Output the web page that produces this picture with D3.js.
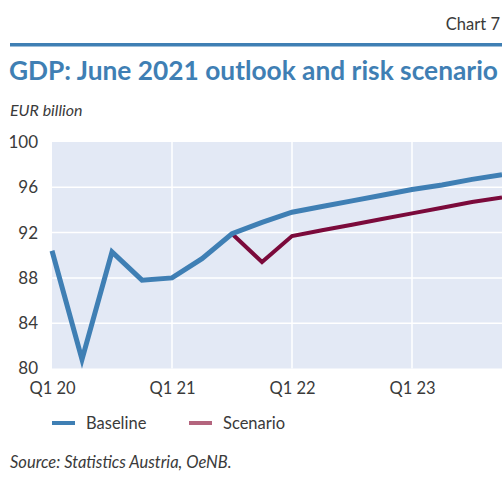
<!DOCTYPE html>
<html><head><meta charset="utf-8">
<script src="https://cdn.jsdelivr.net/npm/d3@7"></script>
<style>body{margin:0;background:#fff;} svg{display:block;}</style>
</head><body>
<svg id="c" width="502" height="481"></svg>
<script>
const quarters = ["Q1 20","Q2 20","Q3 20","Q4 20","Q1 21","Q2 21","Q3 21","Q4 21","Q1 22","Q2 22","Q3 22","Q4 22","Q1 23","Q2 23","Q3 23","Q4 23"];
const baseline = [90.4,80.8,90.3,87.8,88.0,89.7,91.9,92.9,93.8,94.3,94.8,95.3,95.8,96.2,96.7,97.1];
const scenario = [null,null,null,null,null,null,91.9,89.4,91.7,92.2,92.7,93.2,93.7,94.2,94.7,95.1];
const yTicks = [80,84,88,92,96,100];
const xTickLabels = ["Q1 20","Q1 21","Q1 22","Q1 23"];

const font = "Lato, 'Open Sans', sans-serif";
const svg = d3.select("#c");
const blue = "#3f7fb4", red = "#7b0a3b", legRed = "#b4657e", bg = "#e3e9f5", txt = "#3a3a3a";

// header
svg.append("text").attr("x",500).attr("y",30).attr("text-anchor","end")
  .attr("font-family",font).attr("font-size",16.5).attr("fill",txt).text("Chart 7");
svg.append("rect").attr("x",10).attr("y",43).attr("width",492).attr("height",3.5).attr("fill",blue);
const title = svg.append("text").attr("x",9).attr("y",80).attr("font-family",font)
  .attr("font-weight","bold").attr("font-size",22).attr("fill",blue)
  .text("GDP: June 2021 outlook and risk scenario");
const tw = title.node().getComputedTextLength();
title.attr("font-size", 22*489/tw);
const sub = svg.append("text").attr("x",10).attr("y",116).attr("font-family",font).attr("font-style","italic")
  .attr("font-size",16).attr("fill",txt).text("EUR billion");

const x = d3.scaleLinear().domain([0,15]).range([52,502]);
const y = d3.scaleLinear().domain([80,100]).range([368.5,142]);

svg.append("rect").attr("x",x(0)).attr("y",y(100)).attr("width",x(15)-x(0)).attr("height",y(80)-y(100)).attr("fill",bg);

const g = svg.append("g");
g.selectAll(".hg").data(yTicks.filter(v=>v>80&&v<100)).join("line")
  .attr("x1",x(0)).attr("x2",x(15)).attr("y1",d=>y(d)).attr("y2",d=>y(d))
  .attr("stroke","#fff").attr("stroke-width",1.5);
g.selectAll(".vg").data([4,8,12]).join("line")
  .attr("x1",d=>x(d)).attr("x2",d=>x(d)).attr("y1",y(100)).attr("y2",y(80))
  .attr("stroke","#fff").attr("stroke-width",1.5);

// axes
const yAxis = d3.axisLeft(y).tickValues(yTicks).tickSize(0).tickPadding(14);
const ya = svg.append("g").attr("transform",`translate(${x(0)},0)`).call(yAxis);
ya.select(".domain").remove();
ya.selectAll("text").attr("font-family",font).attr("font-size",17).attr("fill",txt);

const xAxis = d3.axisBottom(x).tickValues([0,4,8,12]).tickFormat((d,i)=>xTickLabels[i]).tickSize(0).tickPadding(14);
const xa = svg.append("g").attr("transform",`translate(0,${y(80)})`).call(xAxis);
xa.select(".domain").remove();
xa.selectAll("text").attr("font-family",font).attr("font-size",16.5).attr("fill",txt);

// lines
const line = d3.line().defined(d=>d!=null).x((d,i)=>x(i)).y(d=>y(d));
const lineS = d3.line().defined(d=>d.v!=null).x(d=>x(d.i)).y(d=>y(d.v));
svg.append("path").datum(scenario.map((v,i)=>({v,i}))).attr("d",lineS).attr("fill","none")
  .attr("stroke",red).attr("stroke-width",4).attr("stroke-linejoin","miter");
svg.append("path").datum(baseline).attr("d",line).attr("fill","none")
  .attr("stroke",blue).attr("stroke-width",5).attr("stroke-linejoin","miter");

// legend
const leg = [{name:"Baseline",c:blue,x:52},{name:"Scenario",c:legRed,x:189}];
const lg = svg.selectAll(".leg").data(leg).join("g").attr("transform",d=>`translate(${d.x},423)`);
lg.append("rect").attr("x",0).attr("y",-2).attr("width",23).attr("height",4).attr("fill",d=>d.c);
lg.append("text").attr("x",34).attr("y",6).attr("font-family",font).attr("font-size",16.5).attr("fill",txt).text(d=>d.name);

svg.append("text").attr("x",10).attr("y",468).attr("font-family",font).attr("font-style","italic")
  .attr("font-size",16.5).attr("fill",txt).text("Source: Statistics Austria, OeNB.");
</script>
</body></html>
